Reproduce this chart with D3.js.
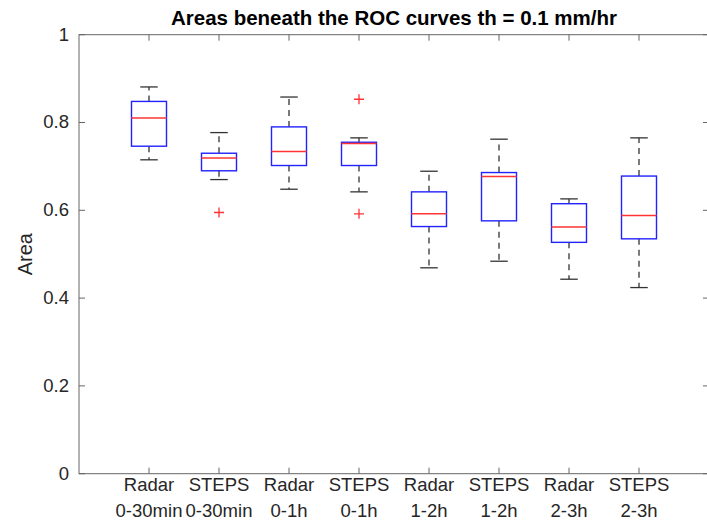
<!DOCTYPE html>
<html>
<head>
<meta charset="utf-8">
<script src="https://cdn.jsdelivr.net/npm/d3@7"></script>
<style>
  body { margin: 0; background: #fff; }
  svg text { font-family: "Liberation Sans", Arial, Helvetica, sans-serif; fill: #262626; }
</style>
</head>
<body>
<div id="chart"></div>
<script>
// categories (two label lines each)
const methods  = ["Radar", "STEPS", "Radar", "STEPS", "Radar", "STEPS", "Radar", "STEPS"];
const horizons = ["0-30min", "0-30min", "0-1h", "0-1h", "1-2h", "1-2h", "2-3h", "2-3h"];

// box statistics
const lowerWhisker = [0.715, 0.670, 0.648, 0.642, 0.469, 0.484, 0.443, 0.424];
const q1           = [0.746, 0.690, 0.702, 0.702, 0.563, 0.576, 0.527, 0.535];
const medians      = [0.810, 0.719, 0.734, 0.752, 0.592, 0.677, 0.562, 0.588];
const q3           = [0.848, 0.730, 0.790, 0.755, 0.642, 0.686, 0.615, 0.678];
const upperWhisker = [0.881, 0.777, 0.858, 0.765, 0.689, 0.762, 0.626, 0.765];
const outliers     = [[], [0.595], [], [0.853, 0.592], [], [], [], []];

const yTicks = [0, 0.2, 0.4, 0.6, 0.8, 1];

const width = 707, height = 522;
const plotLeft = 79, plotRight = 709, plotTop = 34.7, plotBottom = 473.7;

const svg = d3.select("#chart").append("svg")
    .attr("width", width)
    .attr("height", height);

const x = d3.scaleLinear().domain([0, 9]).range([plotLeft, plotRight]);
const y = d3.scaleLinear().domain([0, 1]).range([plotBottom, plotTop]);

const boxes = methods.map((m, i) => ({
    pos: i + 1,
    lo: lowerWhisker[i], q1: q1[i], med: medians[i], q3: q3[i], hi: upperWhisker[i],
    out: outliers[i]
}));

// frame
svg.append("rect")
    .attr("x", plotLeft).attr("y", plotTop)
    .attr("width", plotRight - plotLeft).attr("height", plotBottom - plotTop)
    .attr("fill", "none").attr("stroke", "#666").attr("stroke-width", 1);

// y ticks (left and right, inward)
yTicks.forEach(t => {
    svg.append("line").attr("x1", plotLeft).attr("x2", plotLeft + 6)
        .attr("y1", y(t)).attr("y2", y(t)).attr("stroke", "#666");
    svg.append("line").attr("x1", plotRight).attr("x2", plotRight - 6)
        .attr("y1", y(t)).attr("y2", y(t)).attr("stroke", "#666");
    svg.append("text")
        .attr("x", 69).attr("y", y(t) + 1)
        .attr("text-anchor", "end")
        .attr("dominant-baseline", "middle")
        .style("font-size", "18.5px")
        .text(d3.format("~g")(t));
});

// x ticks (bottom and top, inward) + labels
boxes.forEach((b, i) => {
    const px = x(b.pos);
    svg.append("line").attr("x1", px).attr("x2", px)
        .attr("y1", plotBottom).attr("y2", plotBottom - 6).attr("stroke", "#666");
    svg.append("line").attr("x1", px).attr("x2", px)
        .attr("y1", plotTop).attr("y2", plotTop + 6).attr("stroke", "#666");
    const t = svg.append("text")
        .attr("text-anchor", "middle")
        .style("font-size", "18.5px");
    t.append("tspan").attr("x", px).attr("y", 491).text(methods[i]);
    t.append("tspan").attr("x", px).attr("y", 517).text(horizons[i]);
});

// boxplots
const bw = x(0.5) - x(0);     // box width: 0.5 units
const cw = x(0.25) - x(0);    // cap width

const g = svg.append("g");
boxes.forEach(b => {
    const cx = x(b.pos);
    // whiskers
    g.append("line").attr("x1", cx).attr("x2", cx)
        .attr("y1", y(b.q3)).attr("y2", y(b.hi))
        .attr("stroke", "#333").attr("stroke-width", 1.3).attr("stroke-dasharray", "6,5");
    g.append("line").attr("x1", cx).attr("x2", cx)
        .attr("y1", y(b.q1)).attr("y2", y(b.lo))
        .attr("stroke", "#333").attr("stroke-width", 1.3).attr("stroke-dasharray", "6,5");
    // caps
    [b.hi, b.lo].forEach(v => {
        g.append("line").attr("x1", cx - cw / 2).attr("x2", cx + cw / 2)
            .attr("y1", y(v)).attr("y2", y(v))
            .attr("stroke", "#333").attr("stroke-width", 1.3);
    });
    // box
    g.append("rect")
        .attr("x", cx - bw / 2).attr("y", y(b.q3))
        .attr("width", bw).attr("height", y(b.q1) - y(b.q3))
        .attr("fill", "none").attr("stroke", "#2222ff").attr("stroke-width", 1.4);
    // median
    g.append("line").attr("x1", cx - bw / 2).attr("x2", cx + bw / 2)
        .attr("y1", y(b.med)).attr("y2", y(b.med))
        .attr("stroke", "#ff3333").attr("stroke-width", 1.5);
    // outliers
    b.out.forEach(v => {
        g.append("path")
            .attr("d", `M${cx - 5},${y(v)}H${cx + 5}M${cx},${y(v) - 5}V${y(v) + 5}`)
            .attr("stroke", "#ff3333").attr("stroke-width", 1.3).attr("fill", "none");
    });
});

// title
svg.append("text")
    .attr("x", (plotLeft + plotRight) / 2).attr("y", 25)
    .attr("text-anchor", "middle")
    .style("font-size", "20.5px").style("font-weight", "bold")
    .style("fill", "#000")
    .text("Areas beneath the ROC curves th = 0.1 mm/hr");

// y label
svg.append("text")
    .attr("transform", `translate(31.5,${(plotTop + plotBottom) / 2}) rotate(-90)`)
    .attr("text-anchor", "middle")
    .style("font-size", "20px")
    .text("Area");
</script>
</body>
</html>
